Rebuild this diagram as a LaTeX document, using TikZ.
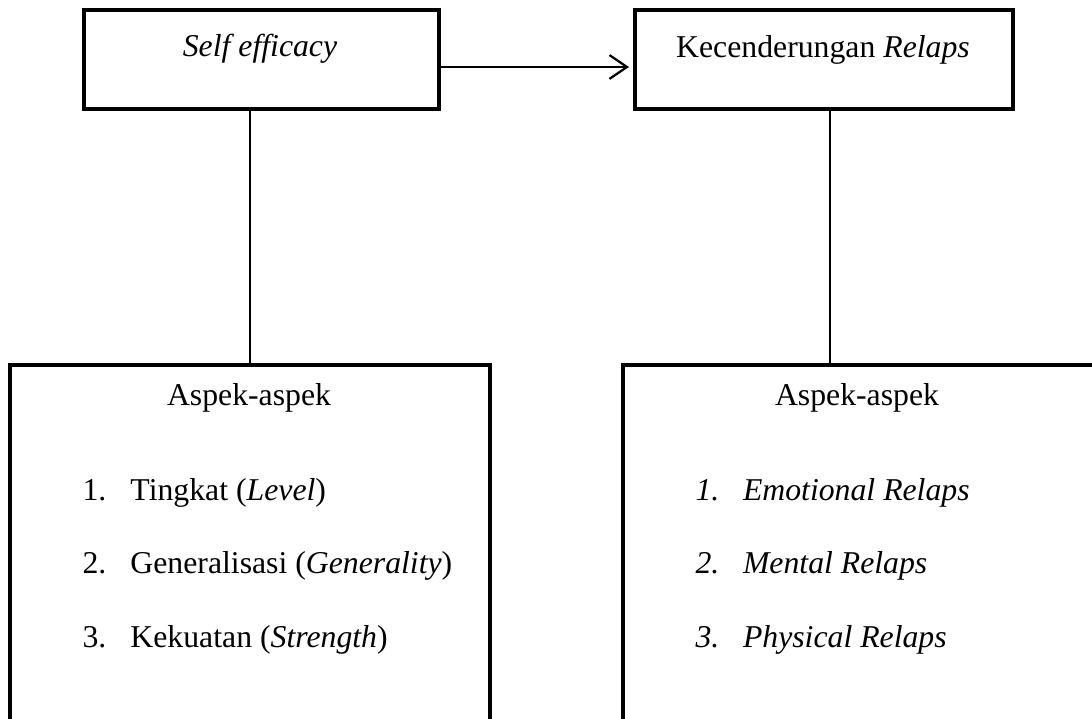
\documentclass[tikz,border=0pt]{standalone}
\usepackage{fontspec}
\setmainfont{Liberation Serif}
\usetikzlibrary{arrows.meta,positioning}
\begin{document}
\begin{tikzpicture}[x=0.4pt,y=-0.4pt,font=\fontsize{12.7}{15}\selectfont,
  box/.style={draw,line width=1.8pt,inner sep=0pt},
  link/.style={line width=0.6pt},
  arr/.style={line width=0.9pt,shorten >=1.5pt,-{Straight Barb[length=7pt,width=9.5pt,line width=0.9pt]}},
  item/.style={anchor=base west,inner sep=0pt}]
\useasboundingbox (0,0) rectangle (1092,719);
\clip (0,0) rectangle (1092,719);
\node[box,minimum width=142pt,minimum height=39.6pt] (self) at (261.5,59.5) {};
\node[box,minimum width=151.2pt,minimum height=39.6pt] (relaps) at (824,59.5) {};
\node[box,minimum width=192pt,minimum height=214pt] (aspekL) at (250,632.5) {};
\node[box,minimum width=230.8pt,minimum height=214pt] (aspekR) at (911.5,632.5) {};
\node[anchor=base] (tself) at (260,57) {\textit{Self efficacy}};
\node[anchor=base] (trelaps) at (823,58) {Kecenderungan \textit{Relaps}};
\node[anchor=base] (hL) at (249,405) {Aspek-aspek};
\node[anchor=base] (hR) at (857,405) {Aspek-aspek};
\node[item] (l1) at (82,500) {\makebox[19.2pt][l]{1.}Tingkat (\textit{Level})};
\node[item] (l2) at (82,573) {\makebox[19.2pt][l]{2.}Generalisasi (\textit{Generality})};
\node[item] (l3) at (82,647) {\makebox[19.2pt][l]{3.}Kekuatan (\textit{Strength})};
\node[item] (r1) at (695,500) {\itshape\makebox[19pt][l]{1.}Emotional Relaps};
\node[item] (r2) at (695,573) {\itshape\makebox[19pt][l]{2.}Mental Relaps};
\node[item] (r3) at (695,647) {\itshape\makebox[19pt][l]{3.}Physical Relaps};
\draw[arr] ([yshift=-3pt]self.east) -- ([yshift=-3pt]relaps.west);
\draw[link] (aspekL.north) -- (aspekL.north |- self.south);
\draw[link] ([xshift=2.4pt]relaps.south) -- ([xshift=2.4pt]relaps.south |- aspekR.north);
\end{tikzpicture}
\end{document}
